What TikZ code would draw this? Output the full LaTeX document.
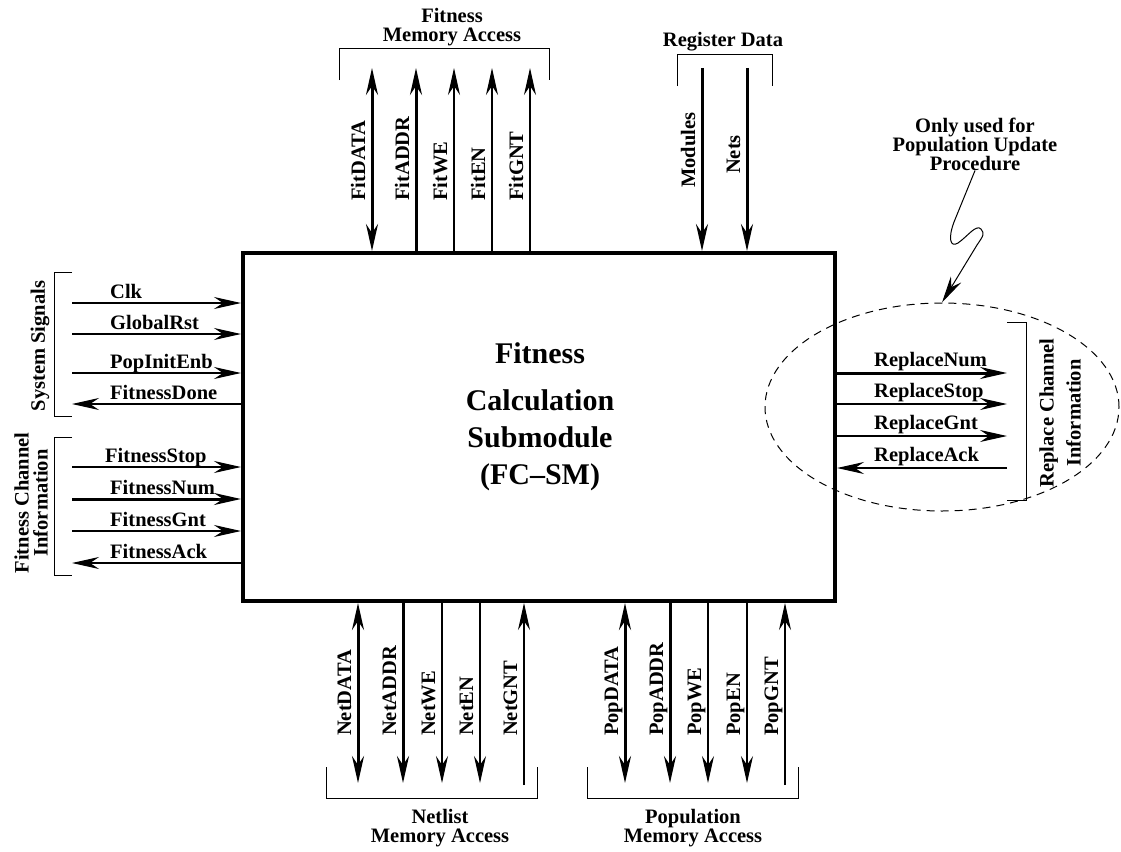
\documentclass[tikz,border=0pt]{standalone}
\usepackage{fontspec}
\setmainfont{Liberation Serif}
\usetikzlibrary{arrows.meta,shapes.geometric}
\begin{document}
\begin{tikzpicture}[x=1pt,y=-1pt,
  sig/.style={line width=1.1pt},
  bus/.style={line width=3pt},
  brk/.style={line width=0.9pt},
  >={Stealth[length=27pt,width=12pt,inset=9pt]},
  lbl/.style={font=\fontsize{20.5}{19}\selectfont\bfseries, inner sep=0pt},
  vlbl/.style={lbl, rotate=90, anchor=base west},
  hlbl/.style={lbl, anchor=base west},
]
\useasboundingbox (0,0) rectangle (1121,851);

% ---- main block ----
\node[draw, line width=4pt, minimum width=592pt, minimum height=348pt, inner sep=0pt] (fc) at (539,427) {};
\node[font=\fontsize{30}{37}\selectfont\bfseries, align=center] (title) at (540,417)
  {Fitness\\[10pt]Calculation\\Submodule\\(FC--SM)};

% ---- fitness memory access (top) ----
\coordinate (fitdata) at (372,68);
\coordinate (fitaddr) at (416,68);
\coordinate (fitwe)   at (454,68);
\coordinate (fiten)   at (492,68);
\coordinate (fitgnt)  at (530,68);
\draw[bus,<->] (fitdata) -- (fitdata |- fc.north);
\draw[bus,->] (fitaddr |- fc.north) -- (fitaddr);
\draw[sig,->] (fitwe |- fc.north) -- (fitwe);
\draw[sig,->] (fiten |- fc.north) -- (fiten);
\draw[sig,->] (fitgnt |- fc.north) -- (fitgnt);
\node[vlbl] (lfitdata) at (365,201) {FitDATA};
\node[vlbl] (lfitaddr) at (409,201) {FitADDR};
\node[vlbl] (lfitwe)   at (447,201) {FitWE};
\node[vlbl] (lfiten)   at (485,201) {FitEN};
\node[vlbl] (lfitgnt)  at (523,201) {FitGNT};
\draw[brk] (339,80) -- (339,48) -- (549,48) -- (549,80);
\node[lbl, align=center] (fma) at (452,27) {Fitness\\Memory Access};

% ---- register data (top) ----
\coordinate (modules) at (702,68);
\coordinate (nets)    at (747,68);
\draw[bus,->] (modules) -- (modules |- fc.north);
\draw[bus,->] (nets) -- (nets |- fc.north);
\node[vlbl] (lmodules) at (695,188) {Modules};
\node[vlbl] (lnets)    at (740,174) {Nets};
\draw[brk] (677,86) -- (677,54) -- (772,54) -- (772,86);
\node[lbl] (rd) at (723,42) {Register Data};

% ---- system signals (left) ----
\coordinate (clk)   at (72,303);
\coordinate (grst)  at (72,334);
\coordinate (pinit) at (72,373);
\coordinate (fdone) at (72,404);
\draw[sig,->] (clk) -- (clk -| fc.west);
\draw[sig,->] (grst) -- (grst -| fc.west);
\draw[sig,->] (pinit) -- (pinit -| fc.west);
\draw[sig,->] (fdone -| fc.west) -- (fdone);
\node[hlbl] (lclk)   at (110,298) {Clk};
\node[hlbl] (lgrst)  at (110,329) {GlobalRst};
\node[hlbl] (lpinit) at (110,368) {PopInitEnb};
\node[hlbl] (lfdone) at (110,399) {FitnessDone};
\draw[brk] (72,272) -- (54,272) -- (54,416) -- (72,416);
\node[lbl, rotate=90] (sys) at (40,346) {System Signals};

% ---- fitness channel (left) ----
\coordinate (fstop) at (72,467);
\coordinate (fnum)  at (72,499);
\coordinate (fgnt)  at (72,531);
\coordinate (fack)  at (72,563);
\draw[sig,->] (fstop) -- (fstop -| fc.west);
\draw[bus,->] (fnum) -- (fnum -| fc.west);
\draw[sig,->] (fgnt) -- (fgnt -| fc.west);
\draw[sig,->] (fack -| fc.west) -- (fack);
\node[hlbl] (lfstop) at (105,462) {FitnessStop};
\node[hlbl] (lfnum)  at (110,494) {FitnessNum};
\node[hlbl] (lfgnt)  at (110,526) {FitnessGnt};
\node[hlbl] (lfack)  at (110,558) {FitnessAck};
\draw[brk] (72,437) -- (54,437) -- (54,575) -- (72,575);
\node[lbl, rotate=90, align=center] (fch) at (31,503) {Fitness Channel\\Information};

% ---- replace channel (right) ----
\coordinate (rnum)  at (1007,373);
\coordinate (rstop) at (1007,404);
\coordinate (rgnt)  at (1007,436);
\coordinate (rack)  at (1007,468);
\draw[bus,->] (rnum -| fc.east) -- (rnum);
\draw[sig,->] (rstop -| fc.east) -- (rstop);
\draw[sig,->] (rgnt -| fc.east) -- (rgnt);
\draw[sig,->] (rack) -- (rack -| fc.east);
\node[hlbl] (lrnum)  at (874,366) {ReplaceNum};
\node[hlbl] (lrstop) at (874,397) {ReplaceStop};
\node[hlbl] (lrgnt)  at (874,429) {ReplaceGnt};
\node[hlbl] (lrack)  at (874,461) {ReplaceAck};
\draw[brk] (1007,322) -- (1026,322) -- (1026,500) -- (1007,500);
\node[lbl, rotate=90, align=center, font=\fontsize{20.5}{27}\selectfont\bfseries] (rch) at (1060,413) {Replace Channel\\Information};

% dashed region and its note
\node[draw, ellipse, dashed, dash pattern=on 8pt off 6pt, line width=1pt,
      minimum width=354pt, minimum height=208pt, inner sep=0pt] (rep) at (942,407) {};
\node[lbl, align=center] (ann) at (975,144) {Only used for\\Population Update\\Procedure};
\draw[line width=1pt,->] (ann.south) -- (954,222)
  .. controls (948,238) and (950,248) .. (958,243)
  .. controls (968,236) and (976,224) .. (981,229)
  .. controls (985,234) and (983,236) .. (977,245) -- (rep.north);

% ---- netlist memory access (bottom) ----
\coordinate (netdata) at (358,783);
\coordinate (netaddr) at (403,783);
\coordinate (netwe)   at (442,783);
\coordinate (neten)   at (480,783);
\coordinate (netgnt)  at (524,785);
\draw[bus,<->] (netdata |- fc.south) -- (netdata);
\draw[bus,->] (netaddr |- fc.south) -- (netaddr);
\draw[sig,->] (netwe |- fc.south) -- (netwe);
\draw[sig,->] (neten |- fc.south) -- (neten);
\draw[sig,->] (netgnt) -- (netgnt |- fc.south);
\node[vlbl] (lnetdata) at (351,736) {NetDATA};
\node[vlbl] (lnetaddr) at (396,736) {NetADDR};
\node[vlbl] (lnetwe)   at (435,736) {NetWE};
\node[vlbl] (lneten)   at (473,736) {NetEN};
\node[vlbl] (lnetgnt)  at (517,736) {NetGNT};
\draw[brk] (326,767) -- (326,798) -- (537,798) -- (537,767);
\node[lbl, align=center] (nma) at (440,828) {Netlist\\Memory Access};

% ---- population memory access (bottom) ----
\coordinate (popdata) at (625,783);
\coordinate (popaddr) at (670,783);
\coordinate (popwe)   at (708,783);
\coordinate (popen)   at (747,783);
\coordinate (popgnt)  at (785,785);
\draw[bus,<->] (popdata |- fc.south) -- (popdata);
\draw[bus,->] (popaddr |- fc.south) -- (popaddr);
\draw[sig,->] (popwe |- fc.south) -- (popwe);
\draw[sig,->] (popen |- fc.south) -- (popen);
\draw[sig,->] (popgnt) -- (popgnt |- fc.south);
\node[vlbl] (lpopdata) at (618,736) {PopDATA};
\node[vlbl] (lpopaddr) at (663,736) {PopADDR};
\node[vlbl] (lpopwe)   at (701,736) {PopWE};
\node[vlbl] (lpopen)   at (740,736) {PopEN};
\node[vlbl] (lpopgnt)  at (778,736) {PopGNT};
\draw[brk] (587,767) -- (587,798) -- (798,798) -- (798,767);
\node[lbl, align=center] (pma) at (693,828) {Population\\Memory Access};
\end{tikzpicture}
\end{document}
